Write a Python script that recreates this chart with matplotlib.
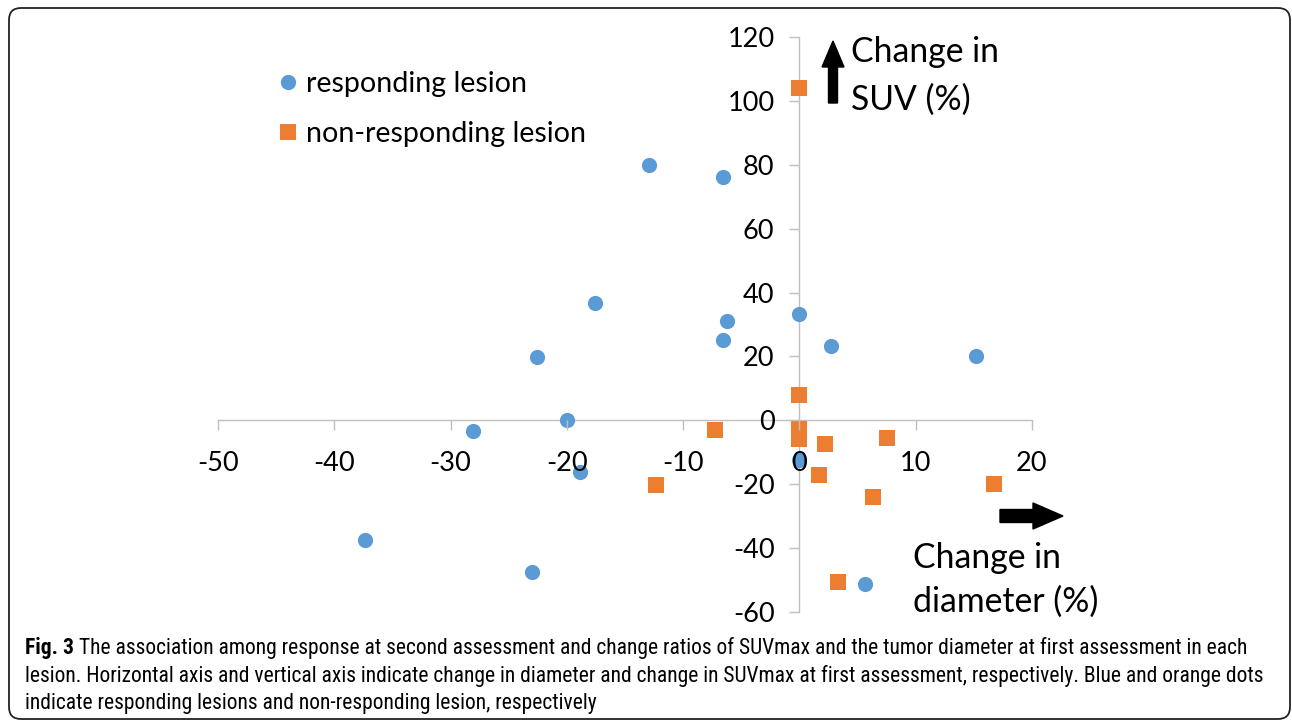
import matplotlib.pyplot as plt
from matplotlib.patches import FancyArrow, FancyBboxPatch
from matplotlib.lines import Line2D

# responding lesions (blue)
resp_x = [-12.9, -6.6, -17.6, -6.2, -6.6, 0.0, 2.7, 15.2, -22.6, -20.0, -28.1, -18.9, -37.4, -23.0, 5.6, 0.0]
resp_y = [80.0, 76.2, 36.6, 31.2, 25.0, 33.4, 23.4, 20.0, 19.7, 0.0, -3.4, -16.2, -37.5, -47.5, -51.2, -12.5]

# non-responding lesions (orange)
nonresp_x = [0.0, 0.0, -7.3, 0.0, 0.0, 2.2, 7.5, 1.7, -12.3, 6.3, 16.7, 3.3]
nonresp_y = [104.0, 8.0, -3.1, -2.8, -5.9, -7.5, -5.6, -17.2, -20.3, -24.0, -20.0, -50.6]

x_ticks = [-50, -40, -30, -20, -10, 0, 10, 20]
y_ticks = [-60, -40, -20, 0, 20, 40, 60, 80, 100, 120]

caption_lines = [
    "The association among response at second assessment and change ratios of SUVmax and the tumor diameter at first assessment in each",
    "lesion. Horizontal axis and vertical axis indicate change in diameter and change in SUVmax at first assessment, respectively. Blue and orange dots",
    "indicate responding lesions and non-responding lesion, respectively",
]

BLUE = '#5b9bd5'
ORANGE = '#ed7d31'
W, H = 1292, 722

plt.rcParams['font.family'] = ['Lato', 'DejaVu Sans']
plt.rcParams['axes.unicode_minus'] = False

fig = plt.figure(figsize=(W / 100, H / 100), dpi=100)
ax = fig.add_axes([218 / W, 1 - 612 / H, (1032 - 218) / W, (612 - 37) / H])
ax.set_xlim(-50, 20)
ax.set_ylim(-60, 120)

ax.scatter(resp_x, resp_y, s=120, marker='o', color=BLUE, linewidths=0,
           zorder=1, clip_on=False, label='responding lesion')
ax.scatter(nonresp_x, nonresp_y, s=125, marker='s', color=ORANGE, linewidths=0,
           zorder=1, clip_on=False, label='non-responding lesion')

for side in ['top', 'right']:
    ax.spines[side].set_visible(False)
for side in ['left', 'bottom']:
    ax.spines[side].set_position(('data', 0))
    ax.spines[side].set_color('#c0c0c0')
    ax.spines[side].set_linewidth(1.0)
    ax.spines[side].set_zorder(0.5)

ax.set_xticks(x_ticks)
ax.set_yticks(y_ticks)
ax.tick_params(axis='x', direction='out', length=7, width=1, color='#c0c0c0',
               labelsize=19.5, pad=15)
ax.tick_params(axis='y', direction='out', length=7, width=1, color='#c0c0c0',
               labelsize=19.5, pad=11)
ax.patch.set_visible(False)

fig.legend(handles=[
    Line2D([], [], marker='o', linestyle='none', color=BLUE, markersize=11, markeredgewidth=0),
    Line2D([], [], marker='s', linestyle='none', color=ORANGE, markersize=11, markeredgewidth=0)],
    labels=['responding lesion', 'non-responding lesion'],
    loc='upper left', bbox_to_anchor=(280 / W, 1 - 71 / H), bbox_transform=fig.transFigure,
    frameon=False, fontsize=20.6, handlelength=0.55, handletextpad=0.35,
    labelspacing=0.85, borderpad=0, borderaxespad=0)

# arrows and axis notes, positioned in inches from the bottom left
inch = fig.dpi_scale_trans
fig.patches.append(FancyArrow(8.33, (H - 103) / 100, 0, 0.62, width=0.09, head_width=0.22,
                              head_length=0.26, length_includes_head=True,
                              color='black', transform=inch, figure=fig))
fig.patches.append(FancyArrow(10.00, (H - 516) / 100, 0.63, 0, width=0.13, head_width=0.26,
                              head_length=0.30, length_includes_head=True,
                              color='black', transform=inch, figure=fig))

for txt, px, py in [('Change in', 851, 52), ('SUV (%)', 851, 100),
                    ('Change in', 913, 558), ('diameter (%)', 913, 602)]:
    fig.text(px / W, 1 - py / H, txt, fontsize=24.3, ha='left', va='center')

# rounded frame
fig.patches.append(FancyBboxPatch((0.09, 0.03), 12.81, 7.11,
                                  boxstyle='round,pad=0,rounding_size=0.12',
                                  facecolor='none', edgecolor='#222222', linewidth=1.3,
                                  transform=inch, figure=fig))

# caption, sized so the second line spans the frame width
cap_font = ['Roboto Condensed', 'Liberation Sans Narrow', 'Liberation Sans', 'DejaVu Sans']
renderer = fig.canvas.get_renderer()
probe = fig.text(0, 0, caption_lines[1], fontsize=13, family=cap_font)
cap_size = 13 * (1262 - 25) / probe.get_window_extent(renderer).width
probe.remove()

bold = fig.text(25 / W, 1 - 648 / H, 'Fig. 3', fontsize=cap_size, fontweight='bold',
                family=cap_font, ha='left', va='center')
bb = bold.get_window_extent(renderer)
fig.text((bb.x1 + 5) / W, 1 - 648 / H, caption_lines[0], fontsize=cap_size,
         family=cap_font, ha='left', va='center')
fig.text(25 / W, 1 - 676 / H, caption_lines[1], fontsize=cap_size,
         family=cap_font, ha='left', va='center')
fig.text(25 / W, 1 - 703 / H, caption_lines[2], fontsize=cap_size,
         family=cap_font, ha='left', va='center')

fig.savefig('out.png', dpi=100)
